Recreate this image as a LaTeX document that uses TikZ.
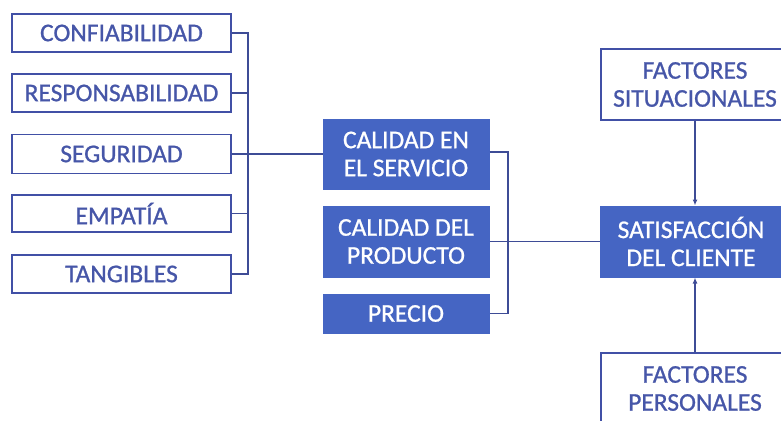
\documentclass[tikz,border=0pt]{standalone}
\usepackage{fontspec}
\setmainfont{Carlito}[FakeBold=0.9]
\usetikzlibrary{arrows.meta}
\definecolor{boxfill}{HTML}{4565C3}
\definecolor{boxline}{HTML}{4150A6}
\definecolor{txtblue}{HTML}{4656A8}
\definecolor{conn}{HTML}{3E4C96}
\begin{document}
\begin{tikzpicture}[x=1pt,y=-1pt,
  whitebox/.style={draw=boxline, line width=1.8pt, fill=white, text=txtblue,
    inner sep=0pt, align=center, font=\fontsize{25.5}{28}\selectfont},
  bluebox/.style={draw=boxfill, line width=1pt, fill=boxfill, text=white,
    inner sep=0pt, align=center, font=\fontsize{25.5}{28}\selectfont},
  link/.style={draw=conn, line width=1.6pt},
  arr/.style={link, -{Latex[length=6pt,width=5pt]}}]
\useasboundingbox (0,0) rectangle (781,420);
% left column
\node[whitebox, minimum width=219pt, minimum height=38pt] (conf) at (121.5,33) {CONFIABILIDAD};
\node[whitebox, minimum width=219pt, minimum height=38pt] (resp) at (121.5,93) {RESPONSABILIDAD};
\node[whitebox, minimum width=219pt, minimum height=39pt] (seg) at (121.5,154) {SEGURIDAD};
\node[whitebox, minimum width=219pt, minimum height=37pt] (emp) at (121.5,213.5) {EMPATÍA};
\node[whitebox, minimum width=219pt, minimum height=38pt] (tang) at (121.5,274) {TANGIBLES};
% middle column
\node[bluebox, minimum width=166pt, minimum height=70pt] (cal1) at (406,154) {CALIDAD EN\\EL SERVICIO};
\node[bluebox, minimum width=166pt, minimum height=71pt] (cal2) at (406,241.5) {CALIDAD DEL\\PRODUCTO};
\node[bluebox, minimum width=166pt, minimum height=39pt] (precio) at (406,313.5) {PRECIO};
% right column
\node[bluebox, minimum width=182pt, minimum height=71pt] (satis) at (691,241.5) {SATISFACCIÓN\\DEL CLIENTE};
\node[whitebox, minimum width=188pt, minimum height=71pt] (fsit) at (695,84.5) {FACTORES\\SITUACIONALES};
\node[whitebox, minimum width=188pt, minimum height=71pt] (fper) at (695,388.5) {FACTORES\\PERSONALES};
% first bracket
\coordinate (b1) at (248,0);
\draw[link] (conf.east) -- (conf.east -| b1) -- (tang.east -| b1) -- (tang.east);
\draw[link] (resp.east) -- (resp.east -| b1);
\draw[link] (emp.east) -- (emp.east -| b1);
\draw[link] (seg.east) -- (seg.east -| cal1.west);
% second bracket
\coordinate (b2) at (508,0);
\draw[link] ([yshift=2pt]cal1.east) -- ([yshift=2pt]cal1.east -| b2) -- (precio.east -| b2) -- (precio.east);
\draw[link] (cal2.east) -- (cal2.east -| satis.west);
% arrows
\draw[arr] (fsit.south) -- (fsit.south |- satis.north);
\draw[arr] (fper.north) -- (fper.north |- satis.south);
\end{tikzpicture}
\end{document}
